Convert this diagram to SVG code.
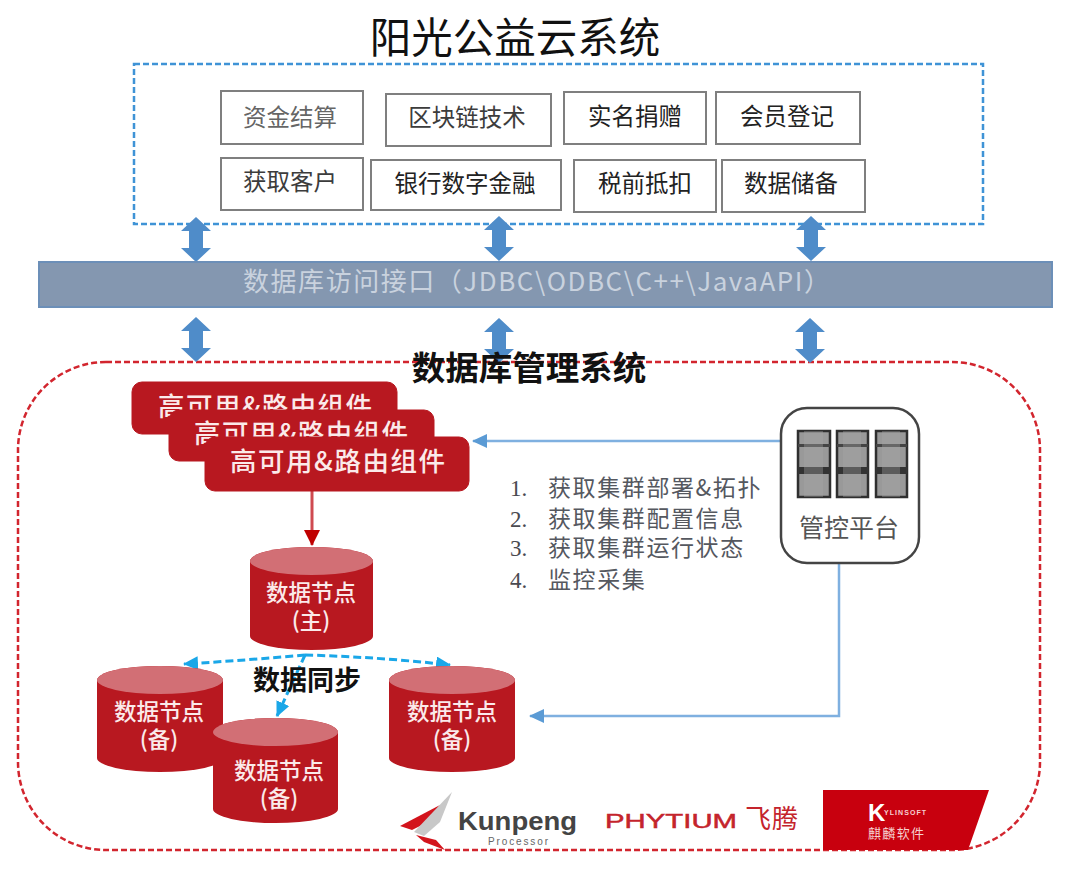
<svg xmlns="http://www.w3.org/2000/svg" xmlns:xlink="http://www.w3.org/1999/xlink" width="1080" height="876" viewBox="0 0 1080 876">
<style>
text{font-family:"Noto Sans CJK SC","Liberation Sans",sans-serif}
.box{fill:#fff;stroke:#7f7f7f;stroke-width:2}
.bt{font-size:23.5px;fill:#3c3c3c;text-anchor:middle}
.red{fill:#b81820}
.rb{fill:#b81820;stroke:#b81820}
.rt{font-size:26.5px;fill:#fbeaea;font-weight:500}
.top{fill:#d26f75}
.ct{font-size:22.500px;fill:#fbeaea;text-anchor:middle;font-weight:500}
.li{font-size:23px;fill:#55585f;letter-spacing:1.6px}
.nm{font-family:"Liberation Serif",serif;font-size:23px;fill:#4a4a50}
.sync{fill:none;stroke:#1aa7e8;stroke-width:3;stroke-dasharray:8 4}
.bl{fill:none;stroke:#7fb0e0;stroke-width:2.5}
.srv{fill:#999;stroke:#2f2f2f;stroke-width:2.5}
.lat{font-family:"Liberation Sans",sans-serif}
</style>
<defs>
<polygon id="dbl" fill="#4f8cc9" points="0,0 15,14 7,14 7,31 15,31 0,45 -15,31 -7,31 -7,14 -15,14"/>
<marker id="mb" markerWidth="16" markerHeight="14" refX="14" refY="7" orient="auto" markerUnits="userSpaceOnUse"><path d="M0,0L15,7L0,14Z" fill="#5b9bd5"/></marker>
<marker id="mc" markerWidth="16" markerHeight="14" refX="14" refY="7" orient="auto" markerUnits="userSpaceOnUse"><path d="M0,0L15,7L0,14Z" fill="#1aa7e8"/></marker>
<marker id="mr" markerWidth="18" markerHeight="16" refX="15" refY="8" orient="auto" markerUnits="userSpaceOnUse"><path d="M0,0L16,8L0,16Z" fill="#c00000"/></marker>
</defs>

<g id="title"><text x="515" y="53" font-size="41.500" fill="#111" text-anchor="middle">阳光公益云系统</text></g>

<g id="cloud-frame"><rect x="134" y="64" width="849" height="160" fill="none" stroke="#3f93d6" stroke-width="2.5" stroke-dasharray="6 3"/></g>

<g id="n1"><rect class="box" x="221" y="91" width="142" height="53"/><text class="bt" x="290" y="126" fill-opacity=".8">资金结算</text></g>
<g id="n2"><rect class="box" x="386" y="94" width="165" height="52"/><text class="bt" x="467" y="126">区块链技术</text></g>
<g id="n3"><rect class="box" x="564" y="92" width="142" height="52"/><text class="bt" x="635" y="125" style="fill:#222">实名捐赠</text></g>
<g id="n4"><rect class="box" x="716" y="92" width="144" height="52"/><text class="bt" x="787" y="125" style="fill:#222">会员登记</text></g>
<g id="n5"><rect class="box" x="221" y="158" width="142" height="52"/><text class="bt" x="290" y="190">获取客户</text></g>
<g id="n6"><rect class="box" x="371" y="160" width="190" height="50"/><text class="bt" x="465" y="192" style="fill:#222">银行数字金融</text></g>
<g id="n7"><rect class="box" x="574" y="160" width="142" height="52"/><text class="bt" x="645" y="192" style="fill:#222">税前抵扣</text></g>
<g id="n8"><rect class="box" x="722" y="160" width="143" height="52"/><text class="bt" x="791" y="192" style="fill:#222">数据储备</text></g>

<g id="db-frame"><rect x="18" y="362" width="1022" height="488" rx="88" ry="88" fill="none" stroke="#d2252e" stroke-width="2.5" stroke-dasharray="6 3"/></g>

<g id="connectors">
<use xlink:href="#dbl" href="#dbl" x="196" y="217"/>
<use xlink:href="#dbl" href="#dbl" x="499" y="216"/>
<use xlink:href="#dbl" href="#dbl" x="811" y="216"/>
<use xlink:href="#dbl" href="#dbl" x="196" y="317"/>
<use xlink:href="#dbl" href="#dbl" x="499" y="318"/>
<use xlink:href="#dbl" href="#dbl" x="810" y="318"/>
<path d="M781,441H473" class="bl" marker-end="url(#mb)"/>
<path d="M839,563V716H530" class="bl" marker-end="url(#mb)"/>
<path d="M312,491V545" fill="none" stroke="#cf4a50" stroke-width="3" marker-end="url(#mr)"/>
<path d="M305,655Q250,660 184,664" class="sync" marker-end="url(#mc)"/>
<path d="M305,655Q380,657 450,665" class="sync" marker-end="url(#mc)"/>
<path d="M305,655L277,716" class="sync" marker-end="url(#mc)"/>
</g>

<g id="api-bar"><rect x="39" y="262" width="1013" height="45" fill="#8497b0" stroke="#6c8fb8" stroke-width="2"/><text x="243" y="291" font-size="26" fill="#c9d2de" textLength="587" lengthAdjust="spacing">数据库访问接口（JDBC\ODBC\C++\JavaAPI）</text></g>

<g id="db-title"><text x="529" y="380" font-size="33.500" font-weight="700" fill="#111" text-anchor="middle">数据库管理系统</text></g>

<g id="ha1"><rect class="rb" x="132" y="382" width="265" height="52" rx="10"/><text class="rt" x="158" y="416" textLength="214">高可用&amp;路由组件</text></g>
<g id="ha2"><rect class="rb" x="169" y="410" width="265" height="51" rx="10"/><text class="rt" x="194" y="443" textLength="214">高可用&amp;路由组件</text></g>
<g id="ha3"><rect class="rb" x="205" y="437" width="264" height="54" rx="10"/><text class="rt" x="230" y="471" textLength="215">高可用&amp;路由组件</text></g>

<g id="master"><path class="red" d="M250,561A61.500,14 0 0 1 373,561V636A61.500,14 0 0 1 250,636Z"/><ellipse class="top" cx="311.500" cy="561" rx="61.500" ry="14"/><text class="ct" x="311" y="601">数据节点</text><text class="ct" x="311" y="629">(主)</text></g>
<g id="s1"><path class="red" d="M97,680A63,14 0 0 1 223,680V758A63,14 0 0 1 97,758Z"/><ellipse class="top" cx="160" cy="680" rx="63" ry="14"/><text class="ct" x="159" y="720">数据节点</text><text class="ct" x="159" y="748">(备)</text></g>
<g id="s2"><path class="red" d="M213,732A62.500,14 0 0 1 338,732V809A62.500,14 0 0 1 213,809Z"/><ellipse class="top" cx="275.500" cy="732" rx="62.500" ry="14"/><text class="ct" x="279" y="779">数据节点</text><text class="ct" x="279" y="807">(备)</text></g>
<g id="s3"><path class="red" d="M389,680A63,14 0 0 1 515,680V758A63,14 0 0 1 389,758Z"/><ellipse class="top" cx="452" cy="680" rx="63" ry="14"/><text class="ct" x="452" y="720">数据节点</text><text class="ct" x="452" y="748">(备)</text></g>

<g id="sync-label"><text x="307" y="690" font-size="27" font-weight="700" fill="#111" text-anchor="middle">数据同步</text></g>

<g id="platform">
<rect x="781" y="408" width="138" height="155" rx="26" fill="#fff" stroke="#444" stroke-width="2.5"/>
<rect class="srv" x="798" y="431" width="32" height="66"/><rect x="798" y="467" width="32" height="7" fill="#333"/><rect x="798" y="444" width="32" height="3" fill="#444"/><rect x="804" y="431" width="19" height="66" fill="#aaa" fill-opacity=".35"/>
<rect class="srv" x="837" y="431" width="31" height="66"/><rect x="837" y="467" width="31" height="7" fill="#333"/><rect x="837" y="444" width="31" height="3" fill="#444"/><rect x="843" y="431" width="18" height="66" fill="#aaa" fill-opacity=".35"/>
<rect class="srv" x="876" y="431" width="31" height="66"/><rect x="876" y="467" width="31" height="7" fill="#333"/><rect x="876" y="444" width="31" height="3" fill="#444"/><rect x="882" y="431" width="18" height="66" fill="#aaa" fill-opacity=".35"/>
<text x="849" y="537" font-size="25" fill="#555" text-anchor="middle">管控平台</text>
</g>

<g id="steps">
<text class="nm" x="510" y="496">1.</text><text class="li" x="548" y="496">获取集群部署&amp;拓扑</text>
<text class="nm" x="510" y="527">2.</text><text class="li" x="548" y="527">获取集群配置信息</text>
<text class="nm" x="510" y="556">3.</text><text class="li" x="548" y="556">获取集群运行状态</text>
<text class="nm" x="510" y="588">4.</text><text class="li" x="548" y="588">监控采集</text>
</g>

<g id="kunpeng">
<polygon points="400,826 440,805 428,822 412,830" fill="#d3141c"/>
<polygon points="414,832 452,792 440,822 424,836" fill="#c8c8c8"/>
<polygon points="416,835 436,840 445,850 424,842" fill="#d3141c"/>
<text class="lat" x="458" y="830" font-size="25" font-weight="700" fill="#444" textLength="119" lengthAdjust="spacingAndGlyphs" style="font-family:'Liberation Sans',sans-serif">Kunpeng</text>
<text class="lat" x="488" y="845" font-size="10" fill="#666" textLength="60" style="font-family:'Liberation Sans',sans-serif">Processor</text>
</g>
<g id="phytium"><text class="lat" x="605" y="828" font-size="21" fill="#c4242c" stroke="#c4242c" stroke-width=".5" textLength="132" lengthAdjust="spacingAndGlyphs" style="font-family:'Liberation Sans',sans-serif">PHYTIUM</text><text x="745" y="828" font-size="26" fill="#c4242c" textLength="53">飞腾</text></g>
<g id="kylinsoft"><polygon points="823,790 989,790 968,850 823,850" fill="#c8000e"/><text x="868" y="821" font-size="24" font-weight="700" fill="#fff" style="font-family:'Liberation Sans',sans-serif">K</text><text x="884" y="815" font-size="7" font-weight="700" fill="#f6d0d0" textLength="42" style="font-family:'Liberation Sans',sans-serif">YLINSOFT</text><text x="868" y="838" font-size="13" fill="#f6d0d0" textLength="56">麒麟软件</text></g>
</svg>
